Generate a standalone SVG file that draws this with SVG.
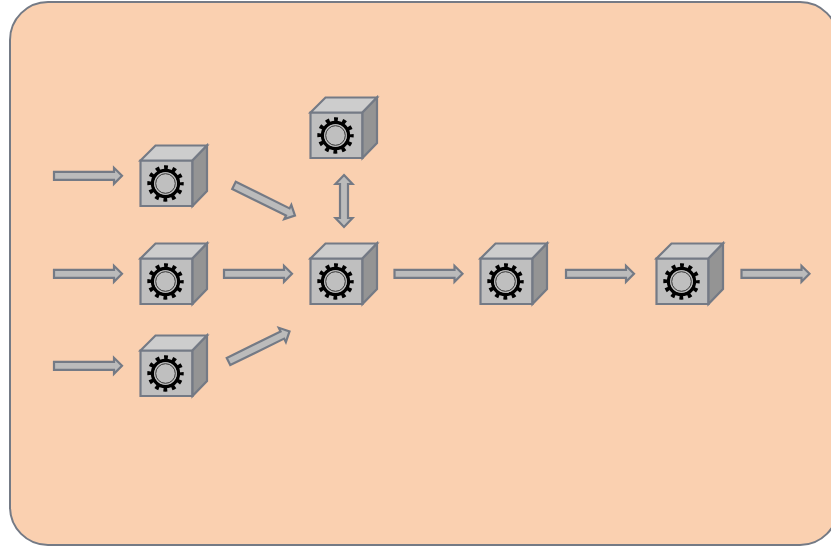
<svg xmlns="http://www.w3.org/2000/svg" width="831" height="547" viewBox="0 0 831 547">
<style>
.bg{fill:#fad0b0;stroke:#747a85;stroke-width:2}
.ar,.c{stroke:#747a85;stroke-width:2.200;stroke-linejoin:miter}
.ar{fill:#bbbbbb}
.f{fill:#bfbfbf}.t{fill:#cdcdcd}.r{fill:#949494}
</style>
<defs>
<polygon id="a" class="ar" points="0,-4 60,-4 60,-8 68,0 60,8 60,4 0,4"/>
<g id="cube">
<polygon class="c f" points="0.500,15.500 52.500,15.500 52.500,61 0.500,61"/>
<polygon class="c t" points="0.500,15.500 15.500,0.500 67,0.500 52.500,15.500"/>
<polygon class="c r" points="52.500,15.500 67,0.500 67,46 52.500,61"/>
<circle cx="25.500" cy="38.500" r="15.800" fill="none" stroke="#000" stroke-width="4.800" stroke-dasharray="3.800 4.473" stroke-dashoffset="1.900"/>
<circle cx="25.500" cy="38.500" r="13" fill="none" stroke="#000" stroke-width="3.400"/>
<circle cx="25.500" cy="38.500" r="11.300" fill="#bfbfbf"/>
<circle cx="25.500" cy="38.500" r="9.800" fill="#bfbfbf" stroke="#333" stroke-width="1"/>
</g>
</defs>
<rect id="container" class="bg" x="10" y="2" width="828" height="543" rx="38" ry="38"/>
<g id="nodes">
<use id="n1" href="#cube" x="140" y="145"/>
<use id="n2" href="#cube" x="140" y="243"/>
<use id="n3" href="#cube" x="140" y="335"/>
<use id="n4" href="#cube" x="310" y="97"/>
<use id="n5" href="#cube" x="310" y="243"/>
<use id="n6" href="#cube" x="480" y="243"/>
<use id="n7" href="#cube" x="656" y="243"/>
</g>
<g id="connectors">
<use href="#a" transform="translate(54,175.800)"/>
<use href="#a" transform="translate(54,273.800)"/>
<use href="#a" transform="translate(54,365.800)"/>
<use href="#a" transform="translate(224,273.800)"/>
<use href="#a" transform="translate(394.500,273.800)"/>
<use href="#a" transform="translate(566,273.800)"/>
<use href="#a" transform="translate(741.500,273.800)"/>
<use href="#a" transform="translate(234,185.400) rotate(26.300)"/>
<use href="#a" transform="translate(228.500,361.500) rotate(-26.200)"/>
<polygon class="ar" points="344,175 352.500,184 348,184 348,218 352.500,218 344,227 335.500,218 340,218 340,184 335.500,184"/>
</g>
</svg>
